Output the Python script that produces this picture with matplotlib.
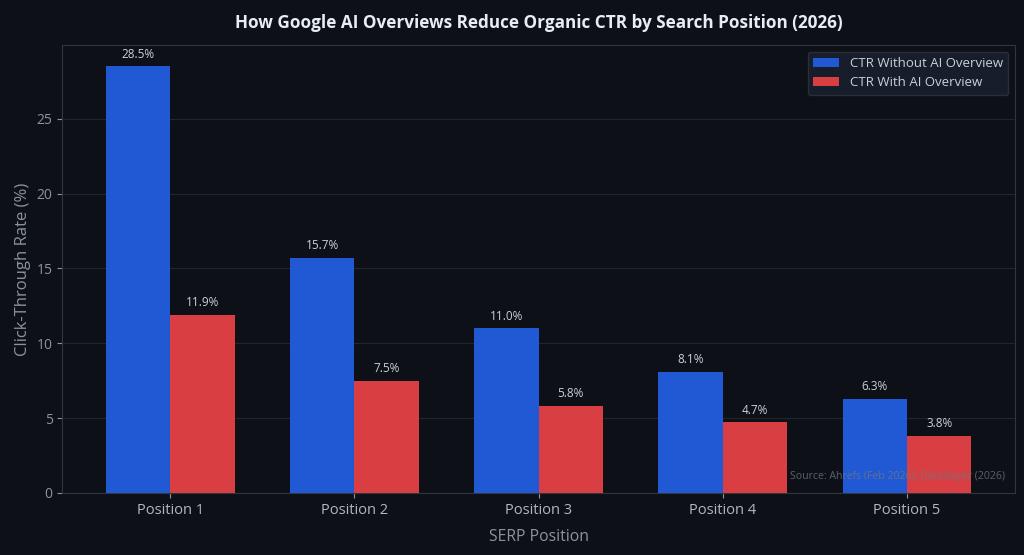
import numpy as np
import matplotlib.pyplot as plt

plt.rcParams['font.family'] = ['Open Sans', 'DejaVu Sans']

# 数据
positions = ['Position 1', 'Position 2', 'Position 3', 'Position 4', 'Position 5']
ctr_without = [28.5, 15.7, 11.0, 8.1, 6.3]
ctr_with = [11.9, 7.5, 5.8, 4.7, 3.8]

bg = '#0d1117'
text_col = '#c9d1d9'
tick_col = '#8b949e'

fig, ax = plt.subplots(figsize=(10.24, 5.55), dpi=100)
fig.patch.set_facecolor(bg)
ax.set_facecolor(bg)

x = np.arange(len(positions))
w = 0.35
b1 = ax.bar(x - w / 2, ctr_without, w, color='#2159d4', label='CTR Without AI Overview', zorder=3)
b2 = ax.bar(x + w / 2, ctr_with, w, color='#d93f42', label='CTR With AI Overview', zorder=3)

for bars in (b1, b2):
    for b in bars:
        h = b.get_height()
        ax.annotate(f'{h:.1f}%', (b.get_x() + b.get_width() / 2, h),
                    xytext=(0, 4), textcoords='offset points',
                    ha='center', va='bottom', fontsize=8.5, color=text_col)

ax.set_ylim(0, max(ctr_without) * 1.05)
ax.set_xticks(x)
ax.set_xticklabels(positions, fontsize=10.5)
ax.tick_params(axis='x', colors=tick_col, labelcolor='#b0b8c4')
ax.tick_params(axis='y', colors=tick_col, labelsize=10, labelcolor=tick_col)
ax.grid(axis='y', color='#21262d', linewidth=0.8, zorder=0)
for s in ax.spines.values():
    s.set_color('#30363d')

ax.set_xlabel('SERP Position', fontsize=11.3, color=tick_col, labelpad=8)
ax.set_ylabel('Click-Through Rate (%)', fontsize=12, color=tick_col)
ax.set_title('How Google AI Overviews Reduce Organic CTR by Search Position (2026)',
             fontsize=12.3, fontweight='bold', color='#e6edf3', pad=12)

leg = ax.legend(loc='upper right', fontsize=9.5, facecolor='#1a2130',
                edgecolor='#30363d', labelcolor=text_col)

ax.text(0.99, 0.025, 'Source: Ahrefs (Feb 2026), Dataslayer (2026)',
        transform=ax.transAxes, ha='right', va='bottom', fontsize=7.6,
        color='#6e7681', alpha=0.8, zorder=5)

plt.subplots_adjust(left=0.061, right=0.991, top=0.919, bottom=0.112)
plt.savefig('out.png', dpi=100, facecolor=bg)
